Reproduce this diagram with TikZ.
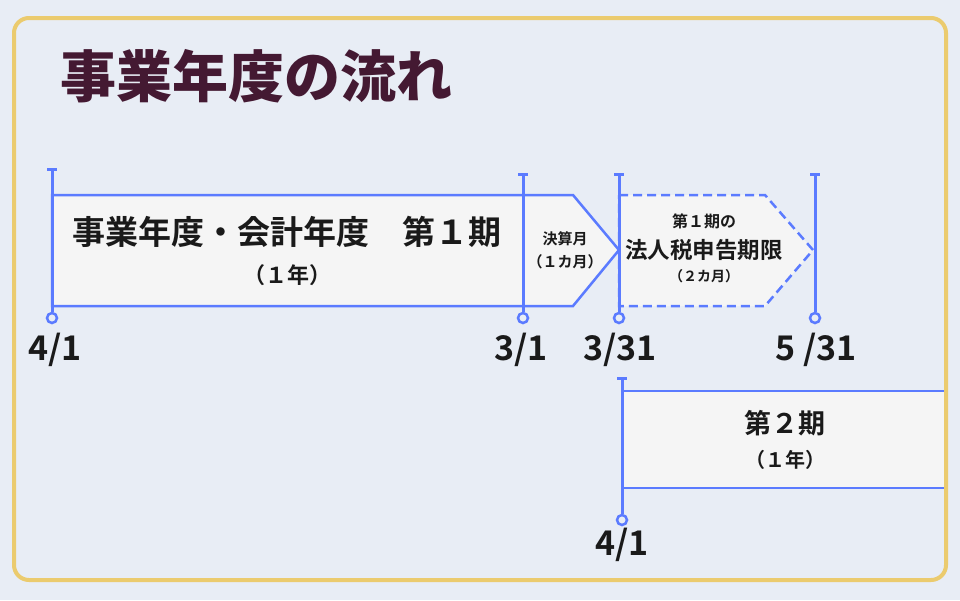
\documentclass[tikz,border=0pt]{standalone}
\usepackage{fontspec}
\setmainfont{Noto Sans CJK JP}[BoldFont={Noto Sans CJK JP Bold}]
\newfontfamily\titlefont{Noto Sans CJK JP Black}
\usetikzlibrary{arrows.meta}
\definecolor{ce8edf5}{RGB}{232,237,245}
\definecolor{cebcb6e}{RGB}{235,203,110}
\definecolor{c5b7bff}{RGB}{91,123,255}
\definecolor{cf5f5f5}{RGB}{245,245,245}
\definecolor{c441932}{RGB}{68,25,50}
\definecolor{c1a1a1a}{RGB}{26,26,26}

\begin{document}
\begin{tikzpicture}[x=1pt,y=-1pt]

\fill[ce8edf5] (0,0) rectangle (960,600);
\useasboundingbox (0,0) rectangle (960,600);

\draw[color=cebcb6e,rounded corners=15pt,line width=4pt,fill=ce8edf5] (14,18) rectangle (946,580);

\node[font=\titlefont\fontsize{56}{56}\selectfont,color=c441932,inner sep=0pt] (title) at (256,76) {事業年度の流れ};

% periods
\draw[color=c5b7bff,line width=2.5pt,fill=cf5f5f5] (52,195) -- (573,195) -- (619,250) -- (573,306) -- (52,306) -- cycle;
\draw[color=c5b7bff,line width=2.5pt,fill=cf5f5f5,dash pattern=on 9pt off 5pt] (619,195) -- (765,195) -- (813,250) -- (765,306) -- (619,306) -- cycle;
\fill[cf5f5f5] (622,391) rectangle (944,488);
\draw[color=c5b7bff,line width=2.5pt] (944,391) -- (622,391) -- (622,488) -- (944,488);

\begin{scope}[every node/.style={draw,circle,color=c5b7bff,line width=2.5pt,fill=ce8edf5,minimum size=10pt,inner sep=0pt}]
\node (d1) at (52,318) {};
\node (d2) at (523,318) {};
\node (d3) at (619,318) {};
\node (d4) at (815,318) {};
\node (d5) at (622,520) {};
\end{scope}

\coordinate (t1) at (52,168);
\coordinate (t2) at (523,173);
\coordinate (t3) at (619,173);
\coordinate (t4) at (815,173);
\coordinate (t5) at (622,377);

\begin{scope}[line width=3pt,color=c5b7bff]
\draw[{Bar[width=10pt,line width=2.5pt]}-] (t1) to (d1);
\draw[{Bar[width=10pt,line width=2.5pt]}-] (t2) to (d2);
\draw[{Bar[width=10pt,line width=2.5pt]}-] (t3) to (d3);
\draw[{Bar[width=10pt,line width=2.5pt]}-] (t4) to (d4);
\draw[{Bar[width=10pt,line width=2.5pt]}-] (t5) to (d5);
\end{scope}

% dates
\begin{scope}[every node/.style={color=c1a1a1a,font=\bfseries\fontsize{34}{34}\selectfont,inner sep=0pt}]
\node (l1) at (55,350) {4/1};
\node (l2) at (521,350) {3/1};
\node (l3) at (620,350) {3/31};
\node (l4) at (816,350) {5 /31};
\node (l5) at (622,545) {4/1};
\end{scope}

% labels
\begin{scope}[every node/.style={color=c1a1a1a,inner sep=0pt}]
\node[font=\bfseries\fontsize{33}{33}\selectfont] (p1) at (287,232) {事業年度・会計年度　第１期};
\node[font=\bfseries\fontsize{22}{22}\selectfont] (p1y) at (287,275) {（１年）};
\node[font=\bfseries\fontsize{15}{15}\selectfont] (km) at (565,239) {決算月};
\node[font=\bfseries\fontsize{15}{15}\selectfont] (kmy) at (565,262) {（１カ月）};
\node[font=\bfseries\fontsize{16}{16}\selectfont] (hz1) at (704,221) {第１期の};
\node[font=\bfseries\fontsize{22.5}{22.5}\selectfont] (hz) at (704,250) {法人税申告期限};
\node[font=\bfseries\fontsize{14}{14}\selectfont] (hzy) at (704,276) {（２カ月）};
\node[font=\bfseries\fontsize{27}{27}\selectfont] (p2) at (785,423) {第２期};
\node[font=\bfseries\fontsize{20}{20}\selectfont] (p2y) at (785,460) {（１年）};
\end{scope}

\end{tikzpicture}
\end{document}
